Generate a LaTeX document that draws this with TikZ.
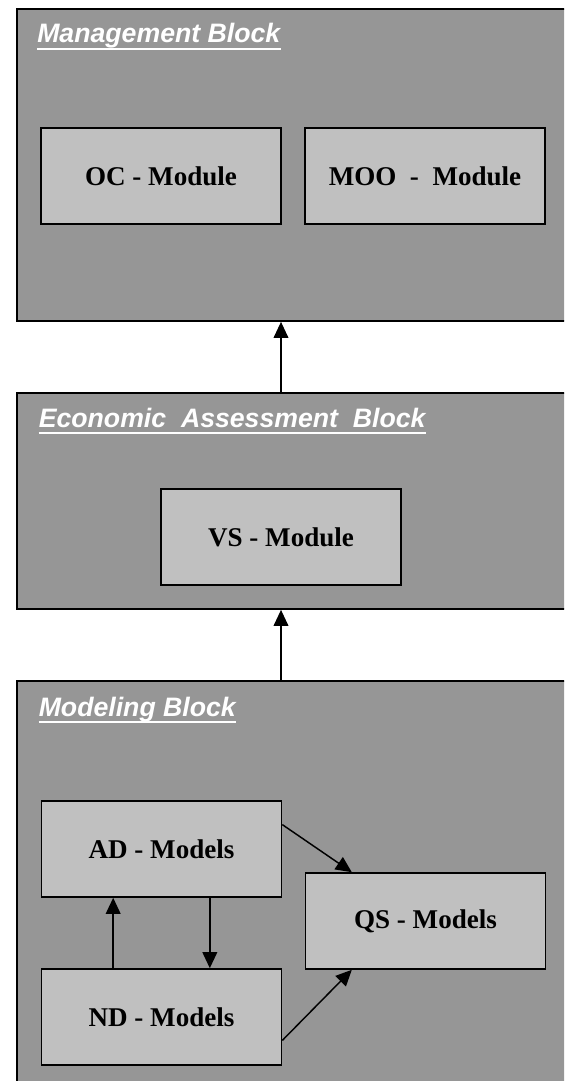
\documentclass[tikz,border=0pt]{standalone}
\usepackage{fontspec}
\setmainfont{Liberation Serif}
\setsansfont{Liberation Sans}
\usetikzlibrary{arrows.meta,calc}
\definecolor{blockgray}{RGB}{150,150,150}
\definecolor{modgray}{RGB}{192,192,192}
\tikzset{
  block/.style={draw=black, line width=1.3pt, fill=blockgray, minimum width=450pt, inner sep=0pt},
  modbox/.style={draw=black, line width=1.2pt, fill=modgray, minimum width=180pt, minimum height=72pt, inner sep=0pt,
    font=\fontsize{20.3}{24}\selectfont\bfseries},
  title/.style={anchor=base west, inner sep=0pt, text=white, font=\sffamily\fontsize{20}{24}\selectfont\bfseries\itshape},
  uline/.style={draw=white, line width=1.4pt},
  arr/.style={draw=black, line width=1.1pt, -{Triangle[length=12pt,width=11pt]}}
}
\begin{document}
\begin{tikzpicture}[x=0.75pt,y=-0.75pt]
\clip (0,0) rectangle (564,1081);
\fill[white] (0,0) rectangle (564,1081);
% blocks
\node[block, minimum height=234pt] (mgmt) at (317,165) {};
\node[block, minimum height=162pt] (econ) at (317,501) {};
\node[block, minimum height=307.5pt] (model) at (317,886) {};
% titles
\node[title] (t1) at (37,43) {Management Block};
\draw[uline] ($(t1.base west)+(0,6)$) -- ($(t1.base east)+(0,6)$);
\node[title] (t2) at (38.5,427) {Economic\ \ Assessment\ \ Block};
\draw[uline] ($(t2.base west)+(0,6)$) -- ($(t2.base east)+(0,6)$);
\node[title] (t3) at (38.5,716) {Modeling Block};
\draw[uline] ($(t3.base west)+(0,6)$) -- ($(t3.base east)+(0,6)$);
% modules
\node[modbox] (OC) at (161,176) {OC - Module};
\node[modbox] (MOO) at (425,176) {MOO\ \ -\ \ Module};
\node[modbox] (VS) at (281,537) {VS - Module};
\node[modbox] (AD) at (161.5,849) {AD - Models};
\node[modbox] (ND) at (161.5,1017) {ND - Models};
\node[modbox] (QS) at (425.5,921) {QS - Models};
% arrows between blocks
\draw[arr] (VS.center |- econ.north) -- (VS.center |- mgmt.south);
\draw[arr] (VS.center |- model.north) -- (VS.center |- econ.south);
% arrows in modeling block
\draw[arr] ($(ND.north west)!0.30!(ND.north east)$) -- ($(AD.south west)!0.30!(AD.south east)$);
\draw[arr] ($(AD.south west)!0.70!(AD.south east)$) -- ($(ND.north west)!0.70!(ND.north east)$);
\draw[arr] ($(AD.north east)!0.25!(AD.south east)$) -- ($(QS.north west)!0.195!(QS.north east)$);
\draw[arr] ($(ND.north east)!0.74!(ND.south east)$) -- ($(QS.south west)!0.195!(QS.south east)$);
\end{tikzpicture}
\end{document}
